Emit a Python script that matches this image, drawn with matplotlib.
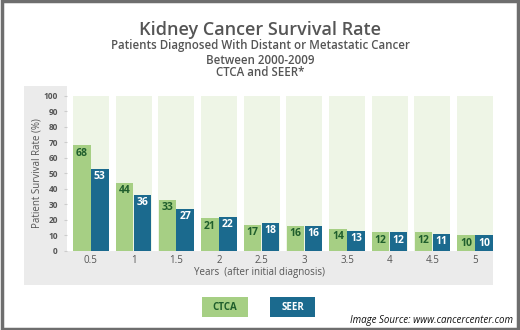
import matplotlib
matplotlib.use("Agg")
import matplotlib.pyplot as plt
from matplotlib.patches import Rectangle
import numpy as np

years = ["0.5", "1", "1.5", "2", "2.5", "3", "3.5", "4", "4.5", "5"]
ctca = [68, 44, 33, 21, 17, 16, 14, 12, 12, 10]
seer = [53, 36, 27, 22, 18, 16, 13, 12, 11, 10]

green = "#a6cf84"
blue = "#1b6a8e"
bg_green = "#eef5e6"
panel = "#ebebeb"
dark_green = "#1f5e2c"
txt = "#555555"

plt.rcParams['font.family'] = ['Open Sans', 'DejaVu Sans']

W, H = 520, 330
fig = plt.figure(figsize=(W / 100, H / 100), dpi=100)

def fx(px):
    return px / W

def fy(py):
    return 1 - py / H

# outer border
fig.patches.append(Rectangle((0.003, 0.004), 0.994, 0.992, transform=fig.transFigure,
                             fill=False, edgecolor="#6e6e6e", linewidth=2.5, zorder=-1))
# gray panel behind the chart
fig.patches.append(Rectangle((fx(24), fy(285)), fx(493 - 24), fy(86) - fy(285),
                             transform=fig.transFigure, facecolor=panel, edgecolor="none",
                             zorder=-1))

ax = fig.add_axes([fx(67), fy(251), fx(493 - 67), fy(86) - fy(251)])
ax.set_zorder(1)
ax.set_facecolor("white")
x = np.arange(len(years))
w = 0.41
ax.bar(x, [100] * len(x), width=0.84, color=bg_green, zorder=1)
b1 = ax.bar(x - 0.21, ctca, width=w, color=green, zorder=2)
b2 = ax.bar(x + 0.21, seer, width=w, color=blue, zorder=2)

for xi, v in zip(x, ctca):
    ax.annotate(str(v), (xi - 0.21, v), xytext=(0, -5.5), textcoords="offset points",
                ha="center", va="center", fontsize=7.5, fontweight="bold", color=dark_green, zorder=3)
for xi, v in zip(x, seer):
    ax.annotate(str(v), (xi + 0.21, v), xytext=(0, -5.5), textcoords="offset points",
                ha="center", va="center", fontsize=7.5, fontweight="bold", color="white", zorder=3)

ax.set_xlim(-0.56, 9.42)
ax.set_ylim(0, 106.3)
ax.set_yticks(range(0, 101, 10))
ax.set_yticklabels([str(t) for t in range(0, 101, 10)], fontsize=6, fontweight="bold", color=txt)
ax.set_xticks(x)
ax.set_xticklabels(years, fontsize=7, color=txt)
ax.tick_params(axis="y", length=2.5, color="#cccccc", pad=4)
ax.tick_params(axis="x", length=0, pad=3)
for s in ax.spines.values():
    s.set_visible(False)

fig.text(fx(37), fy(173), "Patient Survival Rate (%)", rotation=90, ha="center", va="center",
         fontsize=7, color=txt)
fig.text(fx(260), fy(273), "Years  (after initial diagnosis)", ha="center", va="center",
         fontsize=7, color=txt)

# titles
fig.text(0.5, fy(30), "Kidney Cancer Survival Rate", ha="center", va="center",
         fontsize=13, fontweight="semibold", color=txt)
fig.text(0.5, fy(46), "Patients Diagnosed With Distant or Metastatic Cancer", ha="center",
         va="center", fontsize=8.3, fontweight="semibold", color=txt)
fig.text(0.5, fy(60), "Between 2000-2009", ha="center", va="center", fontsize=8.3,
         fontweight="semibold", color=txt)
fig.text(0.5, fy(73), "CTCA and SEER*", ha="center", va="center", fontsize=8.3,
         fontweight="semibold", color=txt)

# legend boxes
fig.patches.append(Rectangle((fx(202), fy(317)), fx(46), fy(297) - fy(317),
                             transform=fig.transFigure, facecolor=green, edgecolor="none"))
fig.patches.append(Rectangle((fx(270), fy(317)), fx(45), fy(297) - fy(317),
                             transform=fig.transFigure, facecolor=blue, edgecolor="none"))
fig.text(fx(225), fy(307), "CTCA", ha="center", va="center", fontsize=7,
         fontweight="bold", color=dark_green)
fig.text(fx(292.5), fy(307), "SEER", ha="center", va="center", fontsize=7,
         fontweight="bold", color="white")

fig.text(fx(513), fy(321), "Image Source: www.cancercenter.com", ha="right", va="center",
         fontsize=7, style="italic", color="#111111")

fig.savefig("out.png", dpi=100, facecolor="white")
